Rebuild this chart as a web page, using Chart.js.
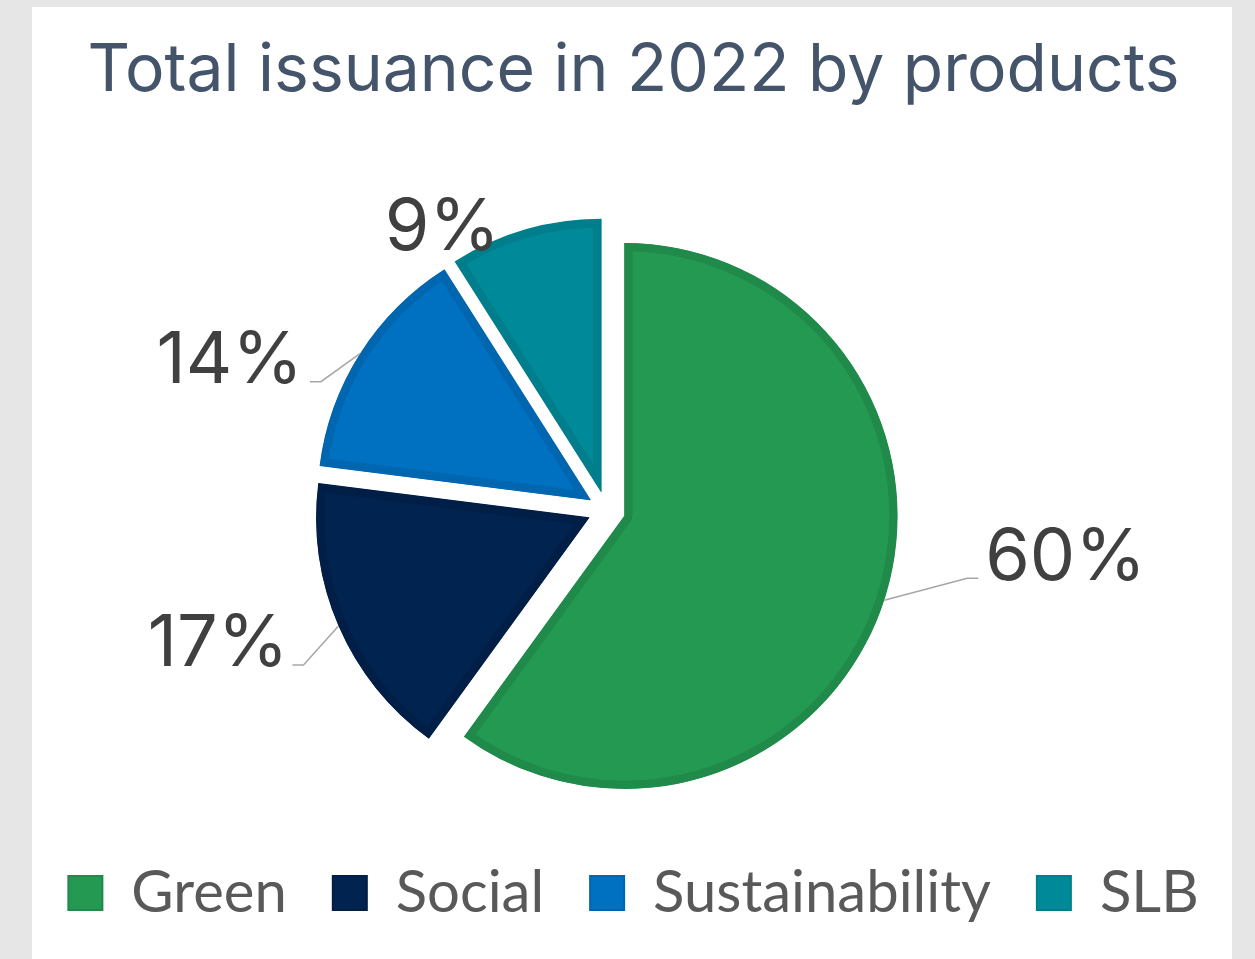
<!DOCTYPE html>
<html>
<head>
<meta charset="utf-8">
<title>Total issuance in 2022 by products</title>
<script src="https://cdn.jsdelivr.net/npm/chart.js@4.4.1/dist/chart.umd.min.js"></script>
<style>
  body { margin: 0; background: #e6e6e6; }
  #card { position: absolute; left: 32px; top: 7px; width: 1200px; height: 952px; background: #fff; }
  #issuanceChart { position: absolute; left: 0; top: 7px; }
</style>
</head>
<body>
<div id="card"></div>
<canvas id="issuanceChart" width="1255" height="952"></canvas>
<script>
  const products = ["Green", "Social", "Sustainability", "SLB"];
  const shares = [60, 17, 14, 9];

  const fillColors = ["#239952", "#00234f", "#0070c0", "#008a99"];
  const edgeColors = ["#1f8a49", "#001e46", "#0066b0", "#007e8b"];

  const pieRadius = 273;
  const explode = 19; // how far each slice is pulled out
  const pieShiftX = -27; // pie sits a bit left of the title
  // where each % label goes, relative to the slice edge (dx/dy = text, ex/ey = leader elbow)
  const labelSpots = [
    { dx: 101, dy: -20, ex: 83, ey: -22, line: true },
    { dx: -50, dy: 40, ex: -35, ey: 39, line: true },
    { dx: -57, dy: 29, ex: -39, ey: 28, line: true },
    { dx: -25, dy: 20, ex: 0, ey: 0, line: false },
  ];

  // built-in offset grows the radius and breaks the inner border,
  // so pull the slices out by hand and let ArcElement draw them
  function explodedDraw(ctx) {
    const mid = (this.startAngle + this.endAngle) / 2;
    ctx.save();
    ctx.translate(Math.cos(mid) * explode, Math.sin(mid) * explode);
    Chart.ArcElement.prototype.draw.call(this, ctx);
    ctx.restore();
  }

  const explodePie = {
    id: "explodePie",
    afterLayout(chart) {
      chart.chartArea.left += pieShiftX;
      chart.chartArea.right += pieShiftX;
    },
    afterDatasetsUpdate(chart) {
      chart.getDatasetMeta(0).data.forEach((arc) => {
        arc.draw = explodedDraw;
      });
    },
  };

  const pieLabels = {
    id: "pieLabels",
    afterDatasetsDraw(chart) {
      const ctx = chart.ctx;
      const meta = chart.getDatasetMeta(0);
      meta.data.forEach((arc, i) => {
        const mid = (arc.startAngle + arc.endAngle) / 2;
        const r = explode + arc.outerRadius;
        const ax = arc.x + Math.cos(mid) * r;
        const ay = arc.y + Math.sin(mid) * r;
        const spot = labelSpots[i];
        const right = spot.dx > 0;
        ctx.save();
        if (spot.line) {
          ctx.strokeStyle = "#a6a6a6";
          ctx.lineWidth = 1.5;
          ctx.beginPath();
          ctx.moveTo(ax, ay);
          ctx.lineTo(ax + spot.ex, ay + spot.ey);
          ctx.lineTo(ax + spot.ex + (right ? 11 : -11), ay + spot.ey);
          ctx.stroke();
        }
        ctx.fillStyle = "#404040";
        ctx.font = "72px Inter";
        ctx.textAlign = right ? "left" : "right";
        ctx.textBaseline = "alphabetic";
        ctx.fillText(shares[i] + "%", ax + spot.dx, ay + spot.dy);
        ctx.restore();
      });
    },
  };

  const ctx = document.getElementById("issuanceChart").getContext("2d");

  const issuanceChart = new Chart(ctx, {
    type: "pie",
    data: {
      labels: products,
      datasets: [
        {
          data: shares,
          backgroundColor: fillColors,
          borderColor: edgeColors,
          borderWidth: 8,
          borderAlign: "inner",
        },
      ],
    },
    options: {
      responsive: false,
      animation: false,
      events: [],
      radius: pieRadius,
      layout: {
        padding: { left: 12, right: 0, top: 0, bottom: 27 },
      },
      plugins: {
        tooltip: { enabled: false },
        title: {
          display: true,
          text: "Total issuance in 2022 by products",
          color: "#44546a",
          font: { family: "Inter", size: 66, weight: "normal" },
          padding: { top: 25, bottom: 91 },
        },
        legend: {
          position: "bottom",
          labels: {
            color: "#595959",
            font: { family: "Lato", size: 58 },
            boxWidth: 34,
            boxHeight: 34,
            padding: 46,
            generateLabels(chart) {
              return products.map((name, i) => ({
                text: name,
                fillStyle: fillColors[i],
                strokeStyle: edgeColors[i],
                fontColor: "#595959",
                lineWidth: 2,
                index: i,
              }));
            },
          },
        },
      },
    },
    plugins: [explodePie, pieLabels],
  });
</script>
</body>
</html>
